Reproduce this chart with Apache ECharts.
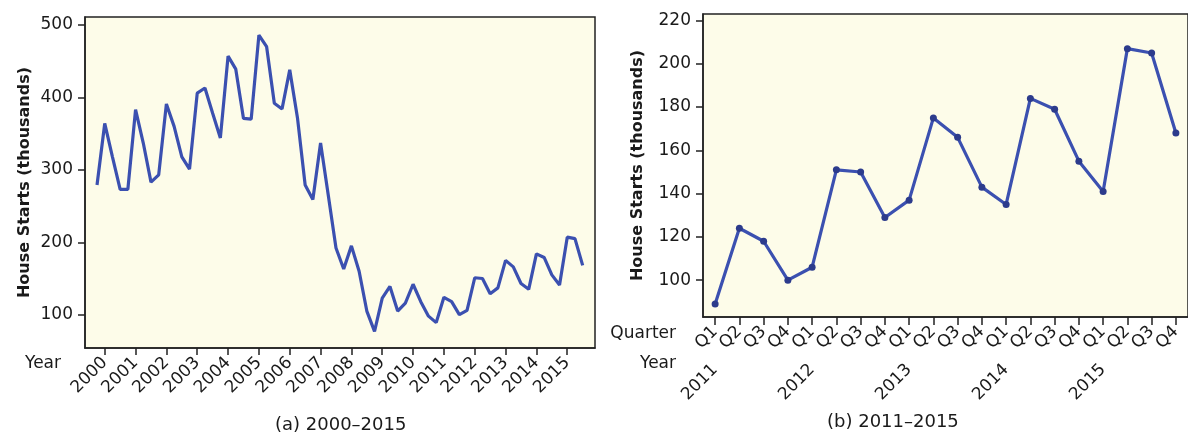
<!DOCTYPE html>
<html>
<head>
<meta charset="utf-8">
<script src="https://cdn.jsdelivr.net/npm/echarts@6/dist/echarts.min.js"></script>
<style>
html,body{margin:0;padding:0;background:#ffffff;}
#c{width:1188px;height:437px;}
</style>
</head>
<body>
<div id="c"></div>
<script>
// ---- data ----
const leftYears = ['2000','2001','2002','2003','2004','2005','2006','2007','2008','2009','2010','2011','2012','2013','2014','2015'];
const leftValues = [
  279, 364, 318, 273,
  273, 383, 337, 283,
  293, 391, 360, 318,
  301, 406, 413, 378,
  344, 457, 439, 371,
  370, 486, 470, 392,
  384, 438, 372, 279,
  259, 337, 265, 192,
  163, 195, 160, 105,
  77, 123, 139, 105,
  116, 142, 118, 98,
  89, 124, 118, 100,
  106, 151, 150, 129,
  137, 175, 166, 143,
  135, 184, 179, 155,
  141, 207, 205, 168
];
const leftYTicks = [100, 200, 300, 400, 500];

const rightYears = ['2011','2012','2013','2014','2015'];
const quarters = ['Q1','Q2','Q3','Q4'];
const rightValues = [89, 124, 118, 100, 106, 151, 150, 129, 137, 175, 166, 143, 135, 184, 179, 155, 141, 207, 205, 168];
const rightYTicks = [100, 120, 140, 160, 180, 200, 220];

// ---- derived ----
const leftData = leftValues.map((v, i) => [i, v]);
const leftTickPos = leftYears.map((y, k) => 1 + 4 * k);
const rightQ = [], rightY = [];
rightYears.forEach(y => quarters.forEach(q => { rightQ.push(q); rightY.push(y); }));

const FONT = 'DejaVu Sans';
const TXT = '#1a1a1a';
const BLUE = '#3b50b0';
const BG = '#fdfce9';

const chart = echarts.init(document.getElementById('c'), null, {renderer: 'canvas'});
chart.setOption({
  animation: false,
  textStyle: {fontFamily: FONT, color: TXT},
  grid: [
    {left: 85, top: 17, right: 593, bottom: 89, show: true, backgroundColor: BG, borderColor: '#222', borderWidth: 1.5, containLabel: false},
    {left: 703, top: 14, right: -3, bottom: 120, show: true, backgroundColor: BG, borderColor: '#222', borderWidth: 1.5, containLabel: false}
  ],
  xAxis: [
    {
      type: 'value', gridIndex: 0, min: -1.56, max: 64.6,
      splitLine: {show: false},
      axisLine: {show: true, onZero: false, lineStyle: {color: '#222', width: 1.5}},
      axisTick: {show: true, length: 7, lineStyle: {color: '#222', width: 1.5}, customValues: leftTickPos},
      axisLabel: {
        show: true, rotate: 45, margin: 12, fontSize: 17, color: TXT, fontFamily: FONT,
        customValues: leftTickPos,
        formatter: v => leftYears[Math.round((v - 1) / 4)] || ''
      }
    },
    {
      type: 'category', gridIndex: 1, data: rightQ, boundaryGap: true,
      axisLine: {show: true, onZero: false, lineStyle: {color: '#222', width: 1.5}},
      axisTick: {show: true, alignWithLabel: true, length: 8, lineStyle: {color: '#222', width: 1.5}},
      axisLabel: {show: true, interval: 0, rotate: 45, margin: 12, fontSize: 17, color: TXT, fontFamily: FONT}
    },
    {
      type: 'category', gridIndex: 1, data: rightY, boundaryGap: true, position: 'bottom',
      axisLine: {show: false}, axisTick: {show: false},
      axisLabel: {show: true, interval: (i) => i % 4 === 0, rotate: 45, margin: 50, fontSize: 17, color: TXT, fontFamily: FONT}
    }
  ],
  yAxis: [
    {
      type: 'value', gridIndex: 0, min: 54, max: 511,
      name: 'House Starts (thousands)', nameLocation: 'middle', nameGap: 52, nameRotate: 90,
      nameTextStyle: {fontFamily: FONT, fontWeight: 'bold', fontSize: 16, color: TXT},
      splitLine: {show: false},
      axisLine: {show: true, onZero: false, lineStyle: {color: '#222', width: 1.5}},
      axisTick: {show: true, length: 7, lineStyle: {color: '#222', width: 1.5}, customValues: leftYTicks},
      axisLabel: {show: true, margin: 12, fontSize: 17, color: TXT, fontFamily: FONT, customValues: leftYTicks}
    },
    {
      type: 'value', gridIndex: 1, min: 83, max: 223,
      name: 'House Starts (thousands)', nameLocation: 'middle', nameGap: 57, nameRotate: 90,
      nameTextStyle: {fontFamily: FONT, fontWeight: 'bold', fontSize: 16, color: TXT},
      splitLine: {show: false},
      axisLine: {show: true, onZero: false, lineStyle: {color: '#222', width: 1.5}},
      axisTick: {show: true, length: 7, lineStyle: {color: '#222', width: 1.5}, customValues: rightYTicks},
      axisLabel: {show: true, margin: 12, fontSize: 17, color: TXT, fontFamily: FONT, customValues: rightYTicks}
    }
  ],
  series: [
    {
      type: 'line', xAxisIndex: 0, yAxisIndex: 0, data: leftData,
      showSymbol: false, symbol: 'none',
      lineStyle: {color: BLUE, width: 3.2}
    },
    {
      type: 'line', xAxisIndex: 1, yAxisIndex: 1, data: rightValues,
      symbol: 'circle', symbolSize: 7,
      itemStyle: {color: '#2c3b8c'},
      lineStyle: {color: BLUE, width: 3.2}
    }
  ],
  graphic: [
    {type: 'text', right: 1188 - 61, top: 355, style: {text: 'Year', font: '17px "DejaVu Sans"', fill: TXT}},
    {type: 'text', right: 1188 - 676, top: 325, style: {text: 'Quarter', font: '17px "DejaVu Sans"', fill: TXT}},
    {type: 'text', right: 1188 - 676, top: 355, style: {text: 'Year', font: '17px "DejaVu Sans"', fill: TXT}},
    {type: 'text', left: 275, top: 416, style: {text: '(a) 2000\u20132015', font: '18px "DejaVu Sans"', fill: TXT}},
    {type: 'text', left: 827, top: 413, style: {text: '(b) 2011\u20132015', font: '18px "DejaVu Sans"', fill: TXT}}
  ]
});
</script>
</body>
</html>
